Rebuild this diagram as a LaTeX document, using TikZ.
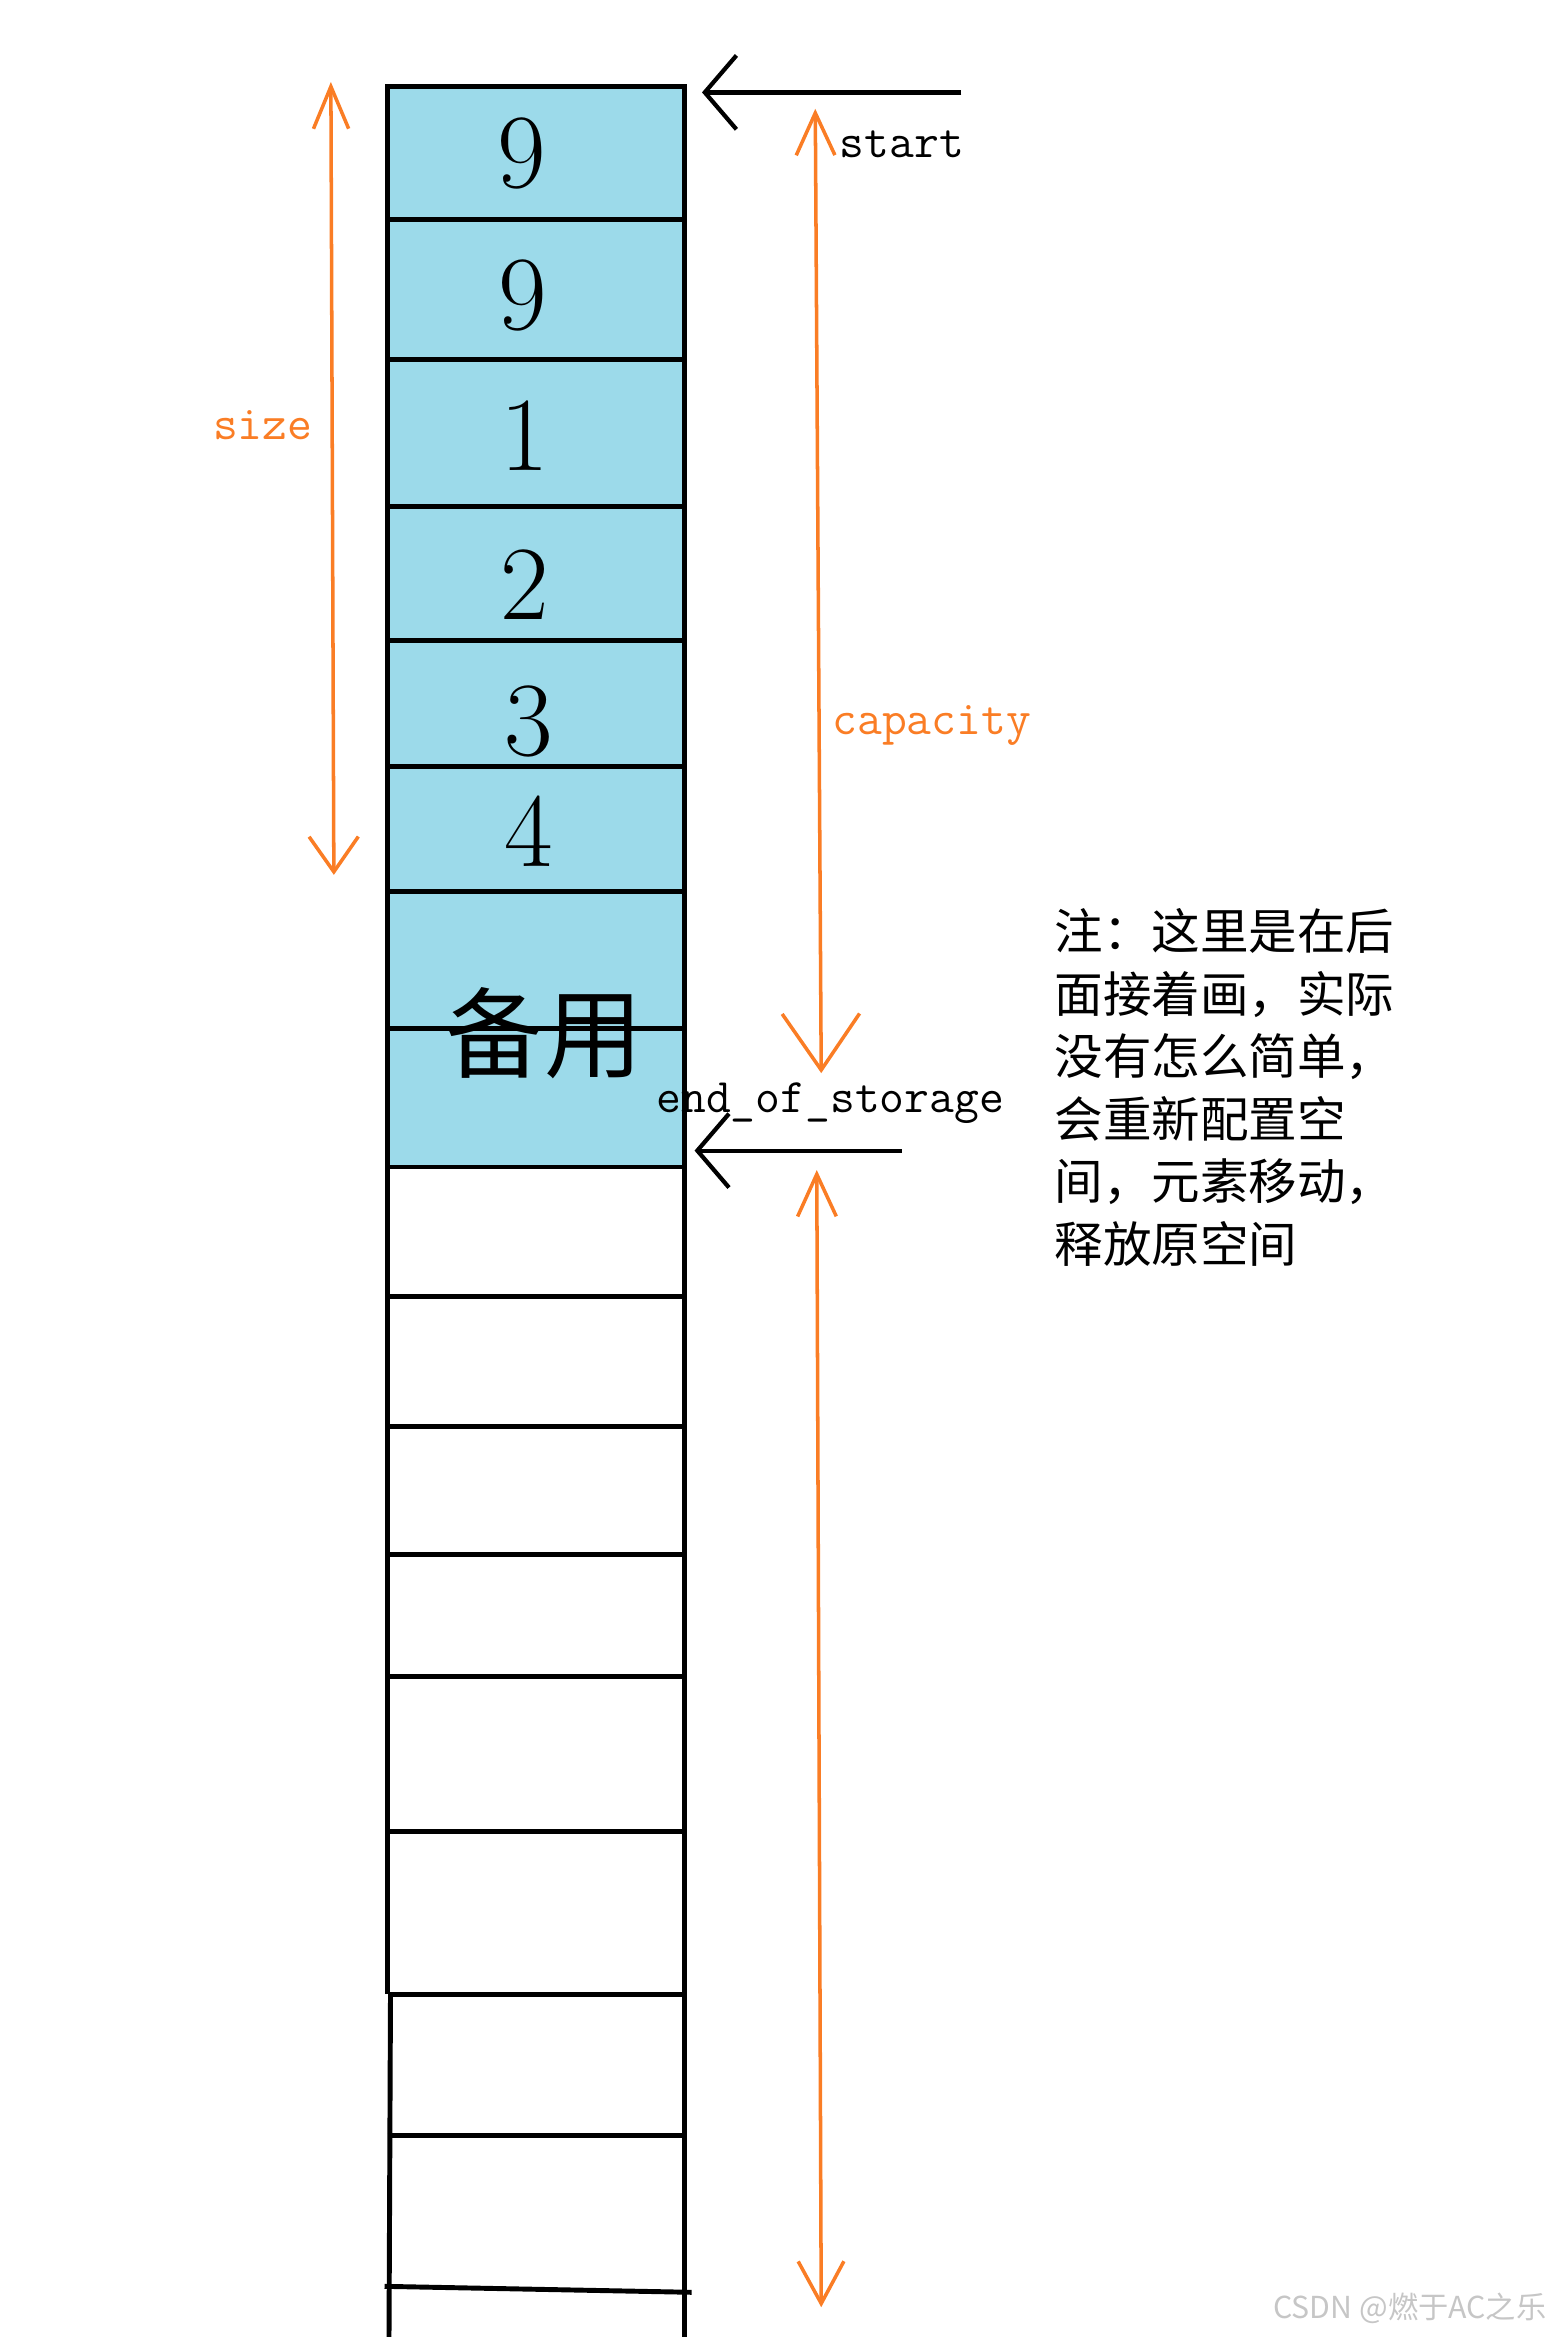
\documentclass[tikz,border=0pt]{standalone}
\usepackage{fontspec}
\newfontfamily\cjk{Noto Sans CJK SC}
\usetikzlibrary{arrows.meta}
\definecolor{cellblue}{RGB}{156,218,234}
\definecolor{memorange}{RGB}{250,125,37}
\tikzset{
  cellline/.style={line width=1.4pt},
  ptr/.style={line width=1.2pt, -{Straight Barb[length=9pt,width=21pt]}},
  span/.style={memorange, line width=1pt},
  digit/.style={font=\fontsize{30}{36}\selectfont},
  lbl/.style={inner sep=0pt, font=\ttfamily\fontsize{13.7}{16}\selectfont},
}
\begin{document}
\begin{tikzpicture}[x=0.0149cm, y=-0.0149cm]
    \useasboundingbox (0,0) rectangle (1041,1568);

    % Used memory
    \fill[cellblue] (260,58) rectangle (459,783);

    % Column of cells
    \draw[cellline] (260,1338) -- (260,58) -- (459,58) -- (459,1568);
    \draw[cellline] (262,1338) -- (261,1568);
    \foreach \y in {147,241,340,430,514,598,690,783,870,957,1043,1125,1229,1338,1433}
        \draw[cellline] (260,\y) -- (461,\y);
    \draw[cellline] (258,1534) -- (464,1538);

    % Elements
    \node[digit] (e1) at (350,103) {9};
    \node[digit] (e2) at (351,198) {9};
    \node[digit] (e3) at (352,292) {1};
    \node[digit] (e4) at (352,392) {2};
    \node[digit] (e5) at (355,484) {3};
    \node[digit] (e6) at (355,558) {4};
    \node[font=\cjk\fontsize{28}{32}\selectfont] (spare) at (365,693) {备用};

    % Pointers
    \coordinate (startTail) at (645,62);
    \coordinate (startTip) at (471,62);
    \coordinate (endTail) at (605,772);
    \coordinate (endTip) at (466,772);
    \draw[ptr] (startTail) -- (startTip);
    \draw[ptr] (endTail) -- (endTip);
    \node[lbl, anchor=west] (start) at (563,97) {start};
    \node[lbl, anchor=west] (eos) at (440,740) {end\_of\_storage};

    % Size and capacity
    \coordinate (sizeTop) at (222,55);
    \coordinate (sizeBot) at (224,587);
    \coordinate (capTop) at (547,73);
    \coordinate (capBot) at (551,720);
    \coordinate (restTop) at (548,785);
    \coordinate (restBot) at (551,1548);
    \draw[span, {Straight Barb[length=12pt,width=10pt]}-{Straight Barb[length=10pt,width=14pt]}] (sizeTop) -- (sizeBot);
    \draw[span, {Straight Barb[length=12pt,width=11pt]}-{Straight Barb[length=16pt,width=22pt]}] (capTop) -- (capBot);
    \draw[span, {Straight Barb[length=12pt,width=11pt]}-{Straight Barb[length=12pt,width=13pt]}] (restTop) -- (restBot);
    \node[lbl, memorange, anchor=east] (size) at (210,285) {size};
    \node[lbl, memorange, anchor=west] (cap) at (558,487) {capacity};

    % Note
    \node[anchor=north west, align=left, inner sep=0pt, font=\cjk\fontsize{13.8}{17.8}\selectfont] (note) at (707,609)
        {注：这里是在后\\面接着画，实际\\没有怎么简单，\\会重新配置空\\间，元素移动，\\释放原空间};

    % Watermark
    \node[anchor=east, inner sep=0pt, gray!45, font=\cjk\fontsize{8.6}{10}\selectfont] (mark) at (1038,1549) {CSDN @燃于AC之乐};
\end{tikzpicture}
\end{document}
